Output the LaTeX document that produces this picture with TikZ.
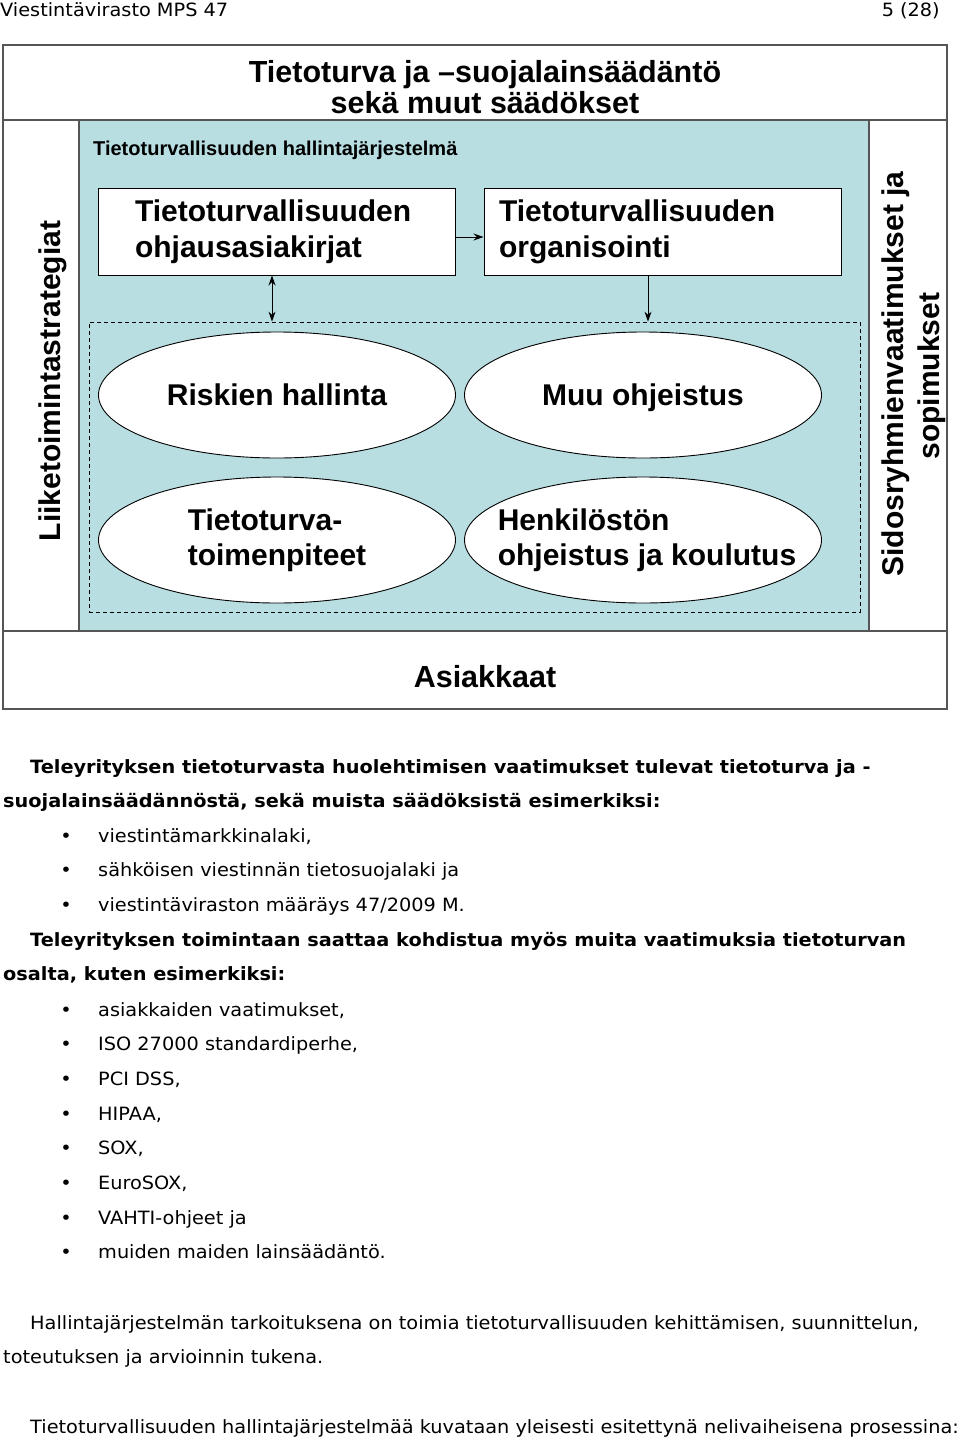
\documentclass[tikz,border=0pt]{standalone}
\usepackage{fontspec}
\setmainfont{DejaVu Sans}[FakeStretch=1.055]
\newfontfamily\arialfont{Liberation Sans}
\usetikzlibrary{shapes.geometric,arrows.meta}
\definecolor{hjsblue}{RGB}{184,222,226}
\definecolor{frameG}{RGB}{85,85,85}
\tikzset{
  frameS/.style ={draw=frameG, line width=1.3pt},
  titleS/.style ={anchor=base, inner sep=0pt, font=\arialfont\bfseries\fontsize{30.5}{33}\selectfont},
  sideS/.style  ={anchor=base, rotate=90, inner sep=0pt, font=\arialfont\bfseries\fontsize{30}{36}\selectfont},
  smallS/.style ={anchor=base west, inner sep=0pt, font=\arialfont\bfseries\fontsize{20}{24}\selectfont},
  boxS/.style   ={draw=black, fill=white, line width=1pt, minimum height=87pt, align=left,
                  font=\arialfont\bfseries\fontsize{30}{36}\selectfont},
  ovalS/.style  ={ellipse, draw=black, fill=white, line width=0.9pt, minimum width=357pt,
                  minimum height=126pt, inner sep=0pt},
  ovalT/.style  ={inner sep=0pt, align=left, font=\arialfont\bfseries\fontsize{30}{35}\selectfont},
  dashS/.style  ={draw=black, dashed, dash pattern=on 4pt off 3pt, line width=0.8pt,
                  minimum width=771pt, minimum height=290pt, inner sep=0pt},
  arrS/.style   ={-{Stealth[length=10pt,width=7pt]}, line width=1pt},
  darrS/.style  ={{Stealth[length=10pt,width=7pt]}-{Stealth[length=10pt,width=7pt]}, line width=1pt},
  bodyR/.style  ={anchor=base west, inner sep=0pt, font=\fontsize{18.3}{22}\selectfont},
  bodyB/.style  ={bodyR, font=\fontsize{18.3}{22}\selectfont\bfseries},
}
\begin{document}
\begin{tikzpicture}[x=1pt,y=-1pt]
  \useasboundingbox (0,0) rectangle (960,1438);
  \node[bodyR] (head) at (0,16) {Viestintävirasto MPS 47};
  \node[bodyR, anchor=base east] (page) at (940,16) {5 (28)};

  \fill[hjsblue] (79,120) rectangle (869,631);
  \draw[frameS] (3,45) rectangle (947,709);
  \draw[frameS] (3,120) -- (947,120);
  \draw[frameS] (3,631) -- (947,631);
  \draw[frameS] (79,120) -- (79,631);
  \draw[frameS] (869,120) -- (869,631);

  \node[titleS] (titA) at (485,82) {Tietoturva ja –suojalainsäädäntö};
  \node[titleS] (titB) at (485,113) {sekä muut säädökset};
  \node[sideS] (strat) at (60,381) {Liiketoimintastrategiat};
  \node[sideS] (sidosA) at (903,374) {Sidosryhmienvaatimukset ja};
  \node[sideS] (sidosB) at (939,376) {sopimukset};
  \node[titleS] (asiak) at (485,687) {Asiakkaat};
  \node[smallS] (hjs) at (93,155) {Tietoturvallisuuden hallintajärjestelmä};

  \node[dashS] (alue) at (474.5,467) {};
  \node[boxS, inner xsep=37pt, text width=283pt] (ohjaus) at (276.5,231.5) {Tietoturvallisuuden\\ohjausasiakirjat};
  \node[boxS, inner xsep=15pt, text width=327pt] (organ) at (662.5,231.5) {Tietoturvallisuuden\\organisointi};
  \node[ovalS, label={[ovalT]center:Riskien hallinta}] (riski) at (277,395) {};
  \node[ovalS, label={[ovalT, yshift=-3pt]center:Muu ohjeistus}] (muu) at (643,395) {};
  \node[ovalS, label={[ovalT]center:Tietoturva-\\toimenpiteet}] (toimet) at (277,540) {};
  \node[ovalS, label={[ovalT, xshift=4pt]center:Henkilöstön\\ohjeistus ja koulutus}] (henk) at (643,540) {};

  \coordinate (ohjD) at ([xshift=-4.5pt]ohjaus.south);
  \coordinate (orgD) at ([xshift=-14.5pt]organ.south);
  \draw[arrS] ([yshift=-5.5pt]ohjaus.east) -- ([yshift=-5.5pt]organ.west);
  \draw[darrS] (ohjD) -- (ohjD |- alue.north);
  \draw[arrS] (orgD) -- (orgD |- alue.north);

  \node[bodyB] (p1a) at (30,773) {Teleyrityksen tietoturvasta huolehtimisen vaatimukset tulevat tietoturva ja -};
  \node[bodyB] (p1b) at (3,807) {suojalainsäädännöstä, sekä muista säädöksistä esimerkiksi:};
  \foreach \t [count=\i] in {{viestintämarkkinalaki,}, sähköisen viestinnän tietosuojalaki ja, viestintäviraston määräys 47/2009 M.}{
    \node[bodyR, anchor=base] (dotA\i) at (66,{842+(\i-1)*34.7}) {•};
    \node[bodyR] (lakiA\i) at (98,{842+(\i-1)*34.7}) {\t};
  }
  \node[bodyB] (p2a) at (30,946) {Teleyrityksen toimintaan saattaa kohdistua myös muita vaatimuksia tietoturvan};
  \node[bodyB] (p2b) at (3,980) {osalta, kuten esimerkiksi:};
  \foreach \t [count=\i] in {{asiakkaiden vaatimukset,}, {ISO 27000 standardiperhe,}, {PCI DSS,}, {HIPAA,}, {SOX,}, {EuroSOX,}, VAHTI-ohjeet ja, muiden maiden lainsäädäntö.}{
    \node[bodyR, anchor=base] (dotB\i) at (66,{1016+(\i-1)*34.7}) {•};
    \node[bodyR] (lakiB\i) at (98,{1016+(\i-1)*34.7}) {\t};
  }
  \node[bodyR] (p3a) at (30,1329) {Hallintajärjestelmän tarkoituksena on toimia tietoturvallisuuden kehittämisen, suunnittelun,};
  \node[bodyR] (p3b) at (3,1363) {toteutuksen ja arvioinnin tukena.};
  \node[bodyR] (p4) at (30,1433) {Tietoturvallisuuden hallintajärjestelmää kuvataan yleisesti esitettynä nelivaiheisena prosessina:};
\end{tikzpicture}
\end{document}
